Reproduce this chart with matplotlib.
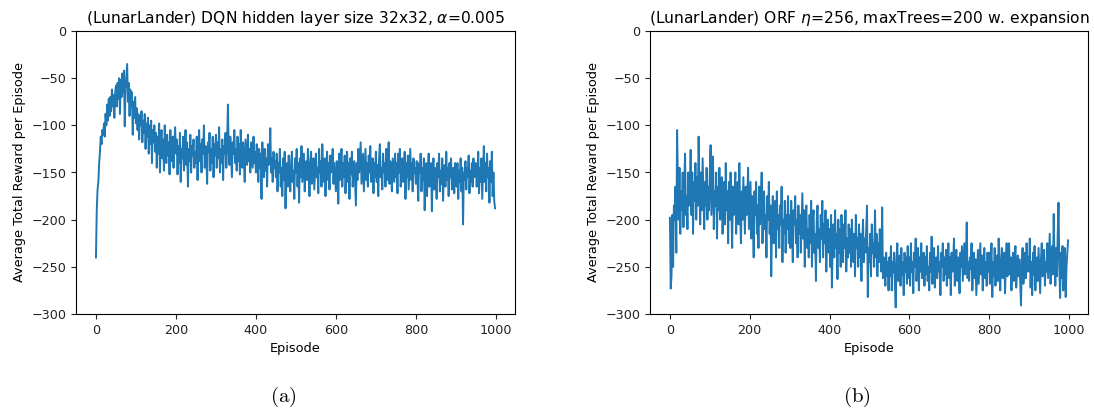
import numpy as np
import matplotlib
matplotlib.use("Agg")
import matplotlib.pyplot as plt

# average total reward per episode, one value every 2 episodes
dqn_reward = [
    -240, -190, -168, -160, -140, -128, -112, -120, -105, -110, -98, -112, -88, -100, -78, -95, -72, -90, -70, -85, -62, -80, -68, -92, -66,
    -58, -80, -55, -72, -50, -88, -52, -70, -45, -65, -42, -101, -60, -48, -35, -75, -55, -90, -62, -80, -65, -110, -75, -92, -70,
    -98, -82, -105, -88, -115, -90, -100, -85, -118, -95, -108, -88, -125, -98, -112, -92, -130, -100, -120, -95, -140, -105, -118, -100, -128,
    -108, -145, -112, -130, -98, -150, -118, -105, -135, -115, -148, -100, -125, -140, -110, -132, -118, -152, -105, -128, -138, -112, -145, -120, -102,
    -130, -115, -152, -122, -140, -108, -160, -125, -135, -112, -148, -128, -105, -142, -118, -165, -125, -138, -110, -150, -122, -132, -115, -145, -128,
    -140, -112, -158, -125, -105, -138, -120, -150, -115, -130, -100, -145, -122, -135, -162, -118, -128, -108, -148, -125, -140, -112, -155, -120, -132,
    -110, -145, -118, -135, -102, -150, -125, -140, -115, -158, -122, -130, -108, -145, -120, -78, -128, -142, -112, -135, -155, -118, -130, -105, -140,
    -125, -148, -112, -138, -120, -152, -105, -130, -145, -118, -135, -160, -115, -128, -142, -110, -138, -125, -150, -118, -132, -145, -112, -140, -128,
    -150, -120, -138, -160, -125, -145, -130, -178, -118, -140, -155, -125, -148, -135, -165, -120, -142, -130, -103, -150, -135, -160, -128, -145, -138,
    -155, -130, -170, -140, -150, -125, -165, -145, -175, -135, -158, -128, -188, -150, -140, -165, -132, -155, -170, -140, -128, -160, -148, -178, -135,
    -150, -125, -165, -140, -182, -135, -155, -122, -160, -145, -130, -170, -148, -138, -158, -125, -150, -175, -140, -128, -162, -145, -135, -168, -150,
    -130, -155, -145, -172, -125, -150, -138, -165, -120, -148, -160, -135, -175, -145, -128, -158, -140, -168, -132, -150, -145, -125, -162, -140, -155,
    -170, -138, -150, -183, -130, -158, -145, -125, -165, -140, -155, -132, -172, -148, -128, -160, -140, -178, -135, -152, -128, -165, -145, -138, -160,
    -185, -140, -158, -125, -150, -135, -118, -162, -145, -130, -170, -148, -125, -158, -140, -165, -132, -150, -122, -160, -145, -135, -172, -140, -155,
    -128, -160, -142, -175, -135, -120, -155, -145, -168, -130, -150, -140, -165, -125, -158, -145, -118, -162, -138, -150, -170, -135, -148, -160, -130,
    -155, -140, -172, -130, -150, -125, -165, -145, -135, -160, -148, -128, -178, -140, -155, -132, -168, -145, -125, -158, -140, -170, -135, -150, -145,
    -162, -138, -155, -180, -140, -150, -130, -170, -145, -158, -135, -190, -150, -140, -175, -148, -130, -165, -155, -140, -191, -150, -135, -168, -145,
    -160, -178, -140, -155, -130, -170, -148, -162, -135, -180, -150, -142, -165, -128, -158, -145, -175, -140, -155, -135, -168, -150, -145, -172, -140,
    -155, -165, -140, -178, -148, -160, -135, -170, -145, -205, -150, -158, -138, -168, -145, -155, -132, -172, -148, -160, -140, -165, -135, -155, -150,
    -140, -165, -150, -128, -172, -145, -160, -135, -178, -150, -122, -160, -140, -170, -130, -155, -145, -182, -138, -160, -128, -175, -150, -180, -188,
]

orf_reward = [
    -198, -273, -260, -195, -250, -185, -200, -165, -235, -105, -160, -200, -145, -215, -170, -190, -150, -208, -160, -130, -195, -175, -210, -150, -185,
    -170, -126, -195, -150, -215, -160, -180, -140, -200, -155, -185, -112, -170, -205, -150, -190, -135, -175, -210, -160, -185, -145, -200, -165, -190,
    -150, -121, -195, -165, -133, -210, -170, -185, -150, -220, -165, -190, -145, -200, -175, -155, -215, -180, -160, -205, -140, -190, -170, -225, -160,
    -200, -150, -185, -230, -165, -195, -175, -150, -215, -180, -160, -205, -140, -190, -225, -170, -200, -155, -185, -215, -165, -195, -175, -145, -210,
    -185, -160, -220, -175, -200, -240, -170, -195, -160, -215, -185, -230, -165, -205, -180, -150, -225, -190, -170, -210, -195, -240, -175, -200, -160,
    -215, -185, -260, -195, -175, -225, -200, -180, -240, -170, -210, -195, -230, -185, -205, -165, -245, -200, -215, -180, -235, -195, -210, -175, -225,
    -195, -230, -180, -210, -245, -190, -205, -175, -225, -200, -240, -185, -215, -195, -235, -205, -172, -220, -190, -250, -200, -185, -230, -210, -240,
    -195, -225, -180, -250, -205, -190, -235, -215, -265, -200, -185, -230, -210, -245, -195, -220, -180, -240, -205, -225, -190, -255, -215, -200, -235,
    -210, -250, -195, -272, -225, -205, -240, -190, -230, -215, -263, -200, -235, -210, -250, -195, -225, -245, -205, -230, -190, -255, -220, -240, -205,
    -235, -210, -250, -200, -225, -245, -215, -260, -195, -230, -220, -250, -205, -240, -215, -265, -225, -200, -245, -220, -235, -210, -185, -282, -230,
    -245, -215, -260, -205, -235, -225, -250, -190, -240, -215, -260, -225, -245, -210, -235, -255, -187, -262, -240, -250, -270, -235, -260, -245, -275,
    -240, -260, -228, -275, -245, -255, -235, -270, -293, -240, -225, -265, -250, -238, -270, -230, -258, -245, -280, -235, -255, -240, -268, -228, -262,
    -240, -270, -225, -255, -245, -278, -235, -250, -220, -265, -245, -230, -275, -240, -255, -225, -262, -245, -235, -270, -240, -258, -228, -265, -250,
    -275, -235, -255, -218, -268, -245, -230, -272, -250, -240, -262, -228, -255, -245, -280, -235, -250, -225, -265, -240, -258, -232, -270, -245, -225,
    -262, -240, -280, -235, -255, -245, -220, -270, -248, -232, -265, -240, -255, -278, -235, -250, -228, -265, -245, -225, -258, -240, -203, -262, -245,
    -265, -240, -252, -225, -275, -248, -235, -262, -242, -280, -255, -232, -268, -245, -225, -258, -238, -275, -250, -230, -262, -245, -270, -235, -255,
    -235, -268, -250, -225, -282, -245, -260, -230, -270, -248, -238, -265, -220, -255, -275, -242, -230, -262, -250, -235, -278, -245, -225, -260, -248,
    -225, -258, -240, -275, -250, -235, -265, -245, -228, -272, -252, -238, -260, -242, -268, -291, -245, -230, -268, -250, -235, -262, -225, -255, -240,
    -255, -220, -272, -245, -280, -235, -258, -228, -275, -250, -240, -265, -230, -255, -278, -242, -225, -260, -248, -232, -270, -245, -255, -225, -262,
    -240, -215, -268, -250, -228, -258, -194, -245, -270, -230, -260, -215, -182, -250, -283, -235, -262, -228, -275, -245, -230, -282, -250, -235, -222,
]

titles = [
    r"(LunarLander) DQN hidden layer size 32x32, $\alpha$=0.005",
    r"(LunarLander) ORF $\eta$=256, maxTrees=200 w. expansion",
]
captions = ["(a)", "(b)"]

fig = plt.figure(figsize=(10.94, 4.11), dpi=100)
W, H = 1094, 411

boxes = [(76, 31, 439, 283), (650, 31, 438, 283)]
series = [dqn_reward, orf_reward]
caption_x = [283, 857]

for (x0, top, w, h), y, title, cap, cx in zip(boxes, series, titles, captions, caption_x):
    ax = fig.add_axes([x0 / W, (H - top - h) / H, w / W, h / H])
    episodes = 2 * np.arange(len(y))
    ax.plot(episodes, y, color="#1f77b4", lw=1.4)
    ax.set_ylim(-300, 0)
    ax.set_yticks(np.arange(-300, 1, 50))
    ax.set_xticks(np.arange(0, 1001, 200))
    ax.tick_params(labelsize=9.2, colors="#222222")
    ax.set_title(title, fontsize=11.2)
    ax.set_xlabel("Episode", fontsize=9.3)
    ax.set_ylabel("Average Total Reward per Episode", fontsize=9.3)
    fig.text(cx / W, 1 - 397 / H, r"$\mathrm{" + cap + "}$", ha="center",
             va="center", fontsize=15, math_fontfamily="cm")

fig.savefig("out.png", dpi=100)
